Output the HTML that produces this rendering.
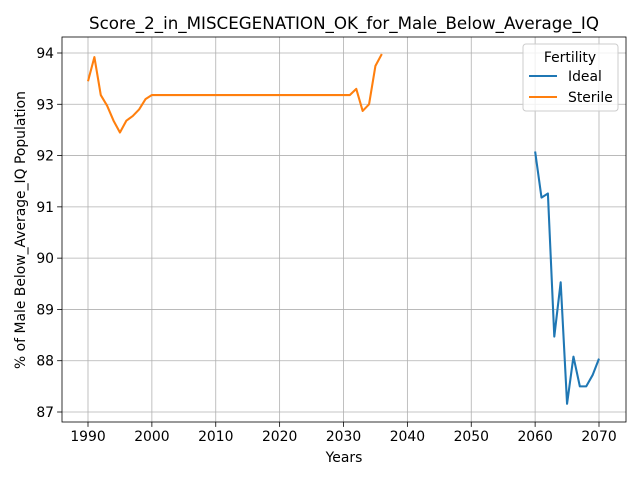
<!DOCTYPE html>
<html><head><meta charset="utf-8"><style>
body{margin:0;background:#fff;font-family:"Liberation Sans","DejaVu Sans",sans-serif}
svg text{font-family:"DejaVu Sans","Liberation Sans",sans-serif}
</style></head><body>
<svg id="c" width="640" height="480" xmlns="http://www.w3.org/2000/svg"></svg>
<script>
const sterileYears=[1990,1991,1992,1993,1994,1995,1996,1997,1998,1999,2000,2031,2032,2033,2034,2035,2036];
const sterileVals=[93.45,93.92,93.18,92.97,92.68,92.45,92.68,92.77,92.9,93.1,93.18,93.18,93.3,92.87,93.0,93.75,93.98];
const idealYears=[2060,2061,2062,2063,2064,2065,2066,2067,2068,2069,2070];
const idealVals=[92.08,91.18,91.26,88.47,89.53,87.16,88.08,87.5,87.5,87.72,88.04];
const xTicks=[1990,2000,2010,2020,2030,2040,2050,2060,2070];
const yTicks=[87,88,89,90,91,92,93,94];
const L=62,R=626,T=37,B=422;
const X=v=>88+(v-1990)*(599-88)/80;
const Y=v=>412-(v-87)*(412-53)/7;
const s=document.getElementById('c');const NS='http://www.w3.org/2000/svg';
function el(t,a,txt){const e=document.createElementNS(NS,t);for(const k in a)e.setAttribute(k,a[k]);if(txt!=null)e.textContent=txt;s.appendChild(e);return e;}
xTicks.forEach(v=>{const g=el('line',{x1:X(v),x2:X(v),y1:T,y2:B,stroke:'#b0b0b0','stroke-width':0.8});

el('line',{x1:X(v),x2:X(v),y1:B,y2:B+4.9,stroke:'#000','stroke-width':0.8});
const t=el('text',{x:X(v),y:B+19,'text-anchor':'middle','font-size':'13.9px'},v);
});
yTicks.forEach(v=>{const g=el('line',{x1:L,x2:R,y1:Y(v),y2:Y(v),stroke:'#b0b0b0','stroke-width':0.8});

el('line',{x1:L-4.9,x2:L,y1:Y(v),y2:Y(v),stroke:'#000','stroke-width':0.8});
const t=el('text',{x:L-8,y:Y(v)+5,'text-anchor':'end','font-size':'13.9px'},v);
});
function line(xs,ys,c,n){const p=el('polyline',{points:xs.map((x,i)=>X(x)+','+Y(ys[i])).join(' '),fill:'none',stroke:c,'stroke-width':2.08,'stroke-linejoin':'round'});
}
line(idealYears,idealVals,'#1f77b4','ideal-line');
line(sterileYears,sterileVals,'#ff7f0e','sterile-line');
const fr=el('rect',{x:L,y:T,width:R-L,height:B-T,fill:'none',stroke:'#000','stroke-width':0.8});

let t=el('text',{x:344,y:29,'text-anchor':'middle','font-size':'16.7px'},'Score_2_in_MISCEGENATION_OK_for_Male_Below_Average_IQ');

t=el('text',{x:344,y:462,'text-anchor':'middle','font-size':'13.9px'},'Years');

t=el('text',{x:0,y:0,'text-anchor':'middle','font-size':'13.9px',transform:'translate(25,230) rotate(-90)'},'% of Male Below_Average_IQ Population');

const lg=el('rect',{x:523,y:44,width:95,height:67,fill:'#fff','fill-opacity':0.8,stroke:'#ccc',rx:3});

t=el('text',{x:570,y:62,'text-anchor':'middle','font-size':'13.9px'},'Fertility');

[['Ideal','#1f77b4',81],['Sterile','#ff7f0e',102]].forEach(([n,c,y])=>{
el('line',{x1:529,x2:557,y1:y-5,y2:y-5,stroke:c,'stroke-width':2.08});
const e=el('text',{x:568,y:y,'font-size':'13.9px'},n);
});
</script>
</body></html>
